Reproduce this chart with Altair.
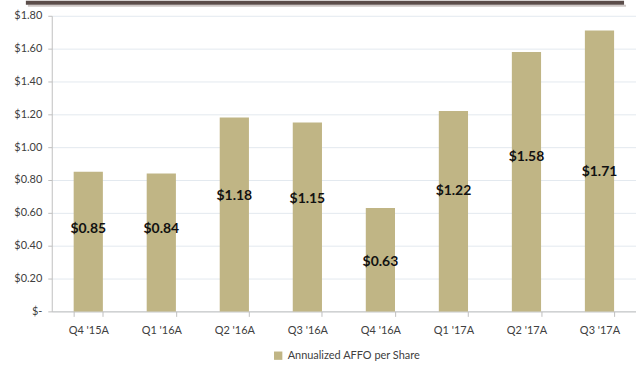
import altair as alt
import pandas as pd

quarters = ["Q4 '15A", "Q1 '16A", "Q2 '16A", "Q3 '16A", "Q4 '16A", "Q1 '17A", "Q2 '17A", "Q3 '17A"]
affo = [0.85, 0.84, 1.18, 1.15, 0.63, 1.22, 1.58, 1.71]
# where each value label sits on its bar (in $ units)
label_at = [0.50, 0.50, 0.70, 0.685, 0.30, 0.73, 0.94, 0.85]
series_name = "Annualized AFFO per Share"
y_ticks = [0, 0.2, 0.4, 0.6, 0.8, 1.0, 1.2, 1.4, 1.6, 1.8]

df = pd.DataFrame({
    "quarter": quarters,
    "value": affo,
    "label_at": label_at,
    "series": [series_name] * len(quarters),
})
df["label"] = ["$" + format(v, ".2f") for v in affo]

FONT = "Lato"
BAR = "#c0b585"

x_axis = alt.Axis(labelAngle=0, tickBand="extent", tickSize=5, labelPadding=8,
                  labelFont=FONT, labelFontSize=11, labelColor="#404040",
                  domainColor="#bfbfbf", tickColor="#bfbfbf", grid=False)
x_scale = alt.Scale(paddingInner=0.6, paddingOuter=0.3)
y_axis = alt.Axis(values=y_ticks,
                  labelExpr="datum.value == 0 ? '$-' : '$' + format(datum.value, '.2f')",
                  labelOverlap=False, labelFlush=False,
                  labelFont=FONT, labelFontSize=11, labelColor="#404040",
                  labelPadding=6, tickSize=4,
                  domainColor="#bfbfbf", tickColor="#bfbfbf",
                  gridColor="#e3e9ef", gridWidth=1)
y_scale = alt.Scale(domain=[0, 1.8], nice=False)

bars = alt.Chart(df).mark_bar(color=BAR).encode(
    x=alt.X("quarter:N", sort=quarters, title=None, scale=x_scale, axis=x_axis),
    y=alt.Y("value:Q", title=None, scale=y_scale, axis=y_axis),
    fill=alt.Fill("series:N", scale=alt.Scale(range=[BAR]),
                  legend=alt.Legend(title=None, orient="none", legendX=222, legendY=336,
                                    symbolType="square", symbolSize=70, symbolStrokeWidth=0,
                                    labelFont=FONT, labelFontSize=11, labelColor="#404040")),
)

labels = alt.Chart(df).mark_text(font=FONT, fontSize=14, fontWeight="bold",
                                 color="#111111").encode(
    x=alt.X("quarter:N", sort=quarters, title=None, scale=x_scale, axis=x_axis),
    y=alt.Y("label_at:Q", title=None, scale=y_scale, axis=y_axis),
    text="label:N",
)

frame = alt.Chart(pd.DataFrame({"a": [0]})).mark_rect(color="#5b4d4a").encode(
    x=alt.value(-26), x2=alt.value(575), y=alt.value(-15), y2=alt.value(-11)
)
shadow = alt.Chart(pd.DataFrame({"a": [0]})).mark_rect(color="#cfc8c6").encode(
    x=alt.value(-24), x2=alt.value(577), y=alt.value(-11), y2=alt.value(-9)
)

chart = alt.layer(shadow, frame, bars, labels).properties(
    width=587, height=297,
    padding={"left": 52, "top": 15, "right": 0, "bottom": 53},
    autosize="none",
    background="white",
).configure_view(stroke=None)

chart.save("out.html", embed_options={"renderer": "svg", "actions": False})
